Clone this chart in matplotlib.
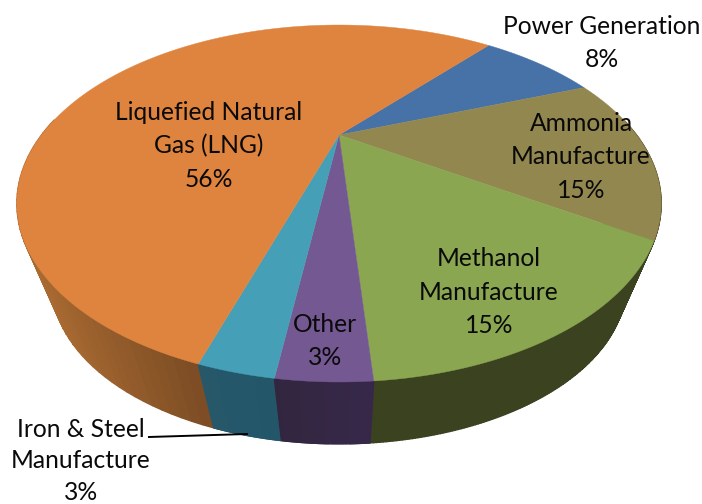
import numpy as np
import matplotlib
matplotlib.use('Agg')
import matplotlib.pyplot as plt

# slices in drawing order, clockwise from the start angle
categories = ['Power Generation', 'Ammonia\nManufacture', 'Methanol\nManufacture',
              'Other', 'Iron & Steel\nManufacture', 'Liquefied Natural\nGas (LNG)']
values = [8, 15, 14.6, 3.3, 2.7, 56.4]
top_colors = ['#4772a8', '#938750', '#8aa650', '#745892', '#459fb6', '#df843e']
side_left = ['#2c4566', '#5a5230', '#3a4220', '#37284a', '#24566a', '#aa6b32']
side_right = ['#2c4566', '#5a5230', '#3a4220', '#32263f', '#26586a', '#7c4c24']

label_pos = [(602, 43), (581, 157), (489, 292), (325, 341), (81, 461), (209, 146)]
label_spacing = [1.53, 1.53, 1.53, 1.53, 1.45, 1.53]

# projection of the tilted disc
CX, CY = 339, 135
A, B, K = 297.5, 152.2, 0.3838
BOTTOM_SCALE, BOTTOM_Y = 0.89, 224
START = 49.5


def project(theta, scale=1.0, y0=CY):
    X, Y = np.cos(theta), np.sin(theta)
    d = 1 + K * Y
    return CX + scale * A * X / d, y0 - scale * B * Y / d


def blend(c1, c2, t):
    c1 = np.array(matplotlib.colors.to_rgb(c1))
    c2 = np.array(matplotlib.colors.to_rgb(c2))
    return c1 * (1 - t) + c2 * t


fig = plt.figure(figsize=(7.02, 5.04), dpi=100)
ax = fig.add_axes([0, 0, 1, 1])
ax.set_xlim(0, 702)
ax.set_ylim(504, 0)
ax.axis('off')

edges = np.radians(START - np.cumsum([0] + values) * 3.6)

# side wall, only the near half of the rim shows
for i in range(len(values)):
    thetas = np.linspace(edges[i], edges[i + 1], 120)
    for a, b in zip(thetas[:-1], thetas[1:]):
        mid = (a + b) / 2
        if np.sin(mid) > 0.1:
            continue
        x1, y1 = project(a)
        x2, y2 = project(b)
        x3, y3 = project(b, BOTTOM_SCALE, BOTTOM_Y)
        x4, y4 = project(a, BOTTOM_SCALE, BOTTOM_Y)
        t = np.clip((np.cos(mid) - np.cos(edges[i])) / (np.cos(edges[i + 1]) - np.cos(edges[i])), 0, 1)
        if values[i] == 56.4:
            # LNG wall runs from the far left to the front
            t = np.clip((x1 - 33) / (205 - 33), 0, 1)
        elif i < 3:
            t = 0
        col = blend(side_left[i], side_right[i], t)
        ax.fill([x1, x2, x3, x4], [y1, y2, y3, y4], color=col, lw=1.0, zorder=2 - np.sin(mid))

# top face
for i in range(len(values)):
    thetas = np.linspace(edges[i], edges[i + 1], 200)
    x, y = project(thetas)
    ax.fill(np.r_[CX, x], np.r_[CY, y], color=top_colors[i], lw=0.3, zorder=5)

font = dict(family='Lato', fontsize=17.7, color='#0a0a0a', ha='center', va='center', zorder=7)
for name, v, (lx, ly), sp in zip(categories, values, label_pos, label_spacing):
    ax.text(lx, ly, f'{name}\n{v:.0f}%', linespacing=sp, **font)

# leader line for the small slice
ax.plot([149, 247], [437, 434], color='black', lw=1.4, zorder=6)

fig.savefig('out.png', dpi=100)
